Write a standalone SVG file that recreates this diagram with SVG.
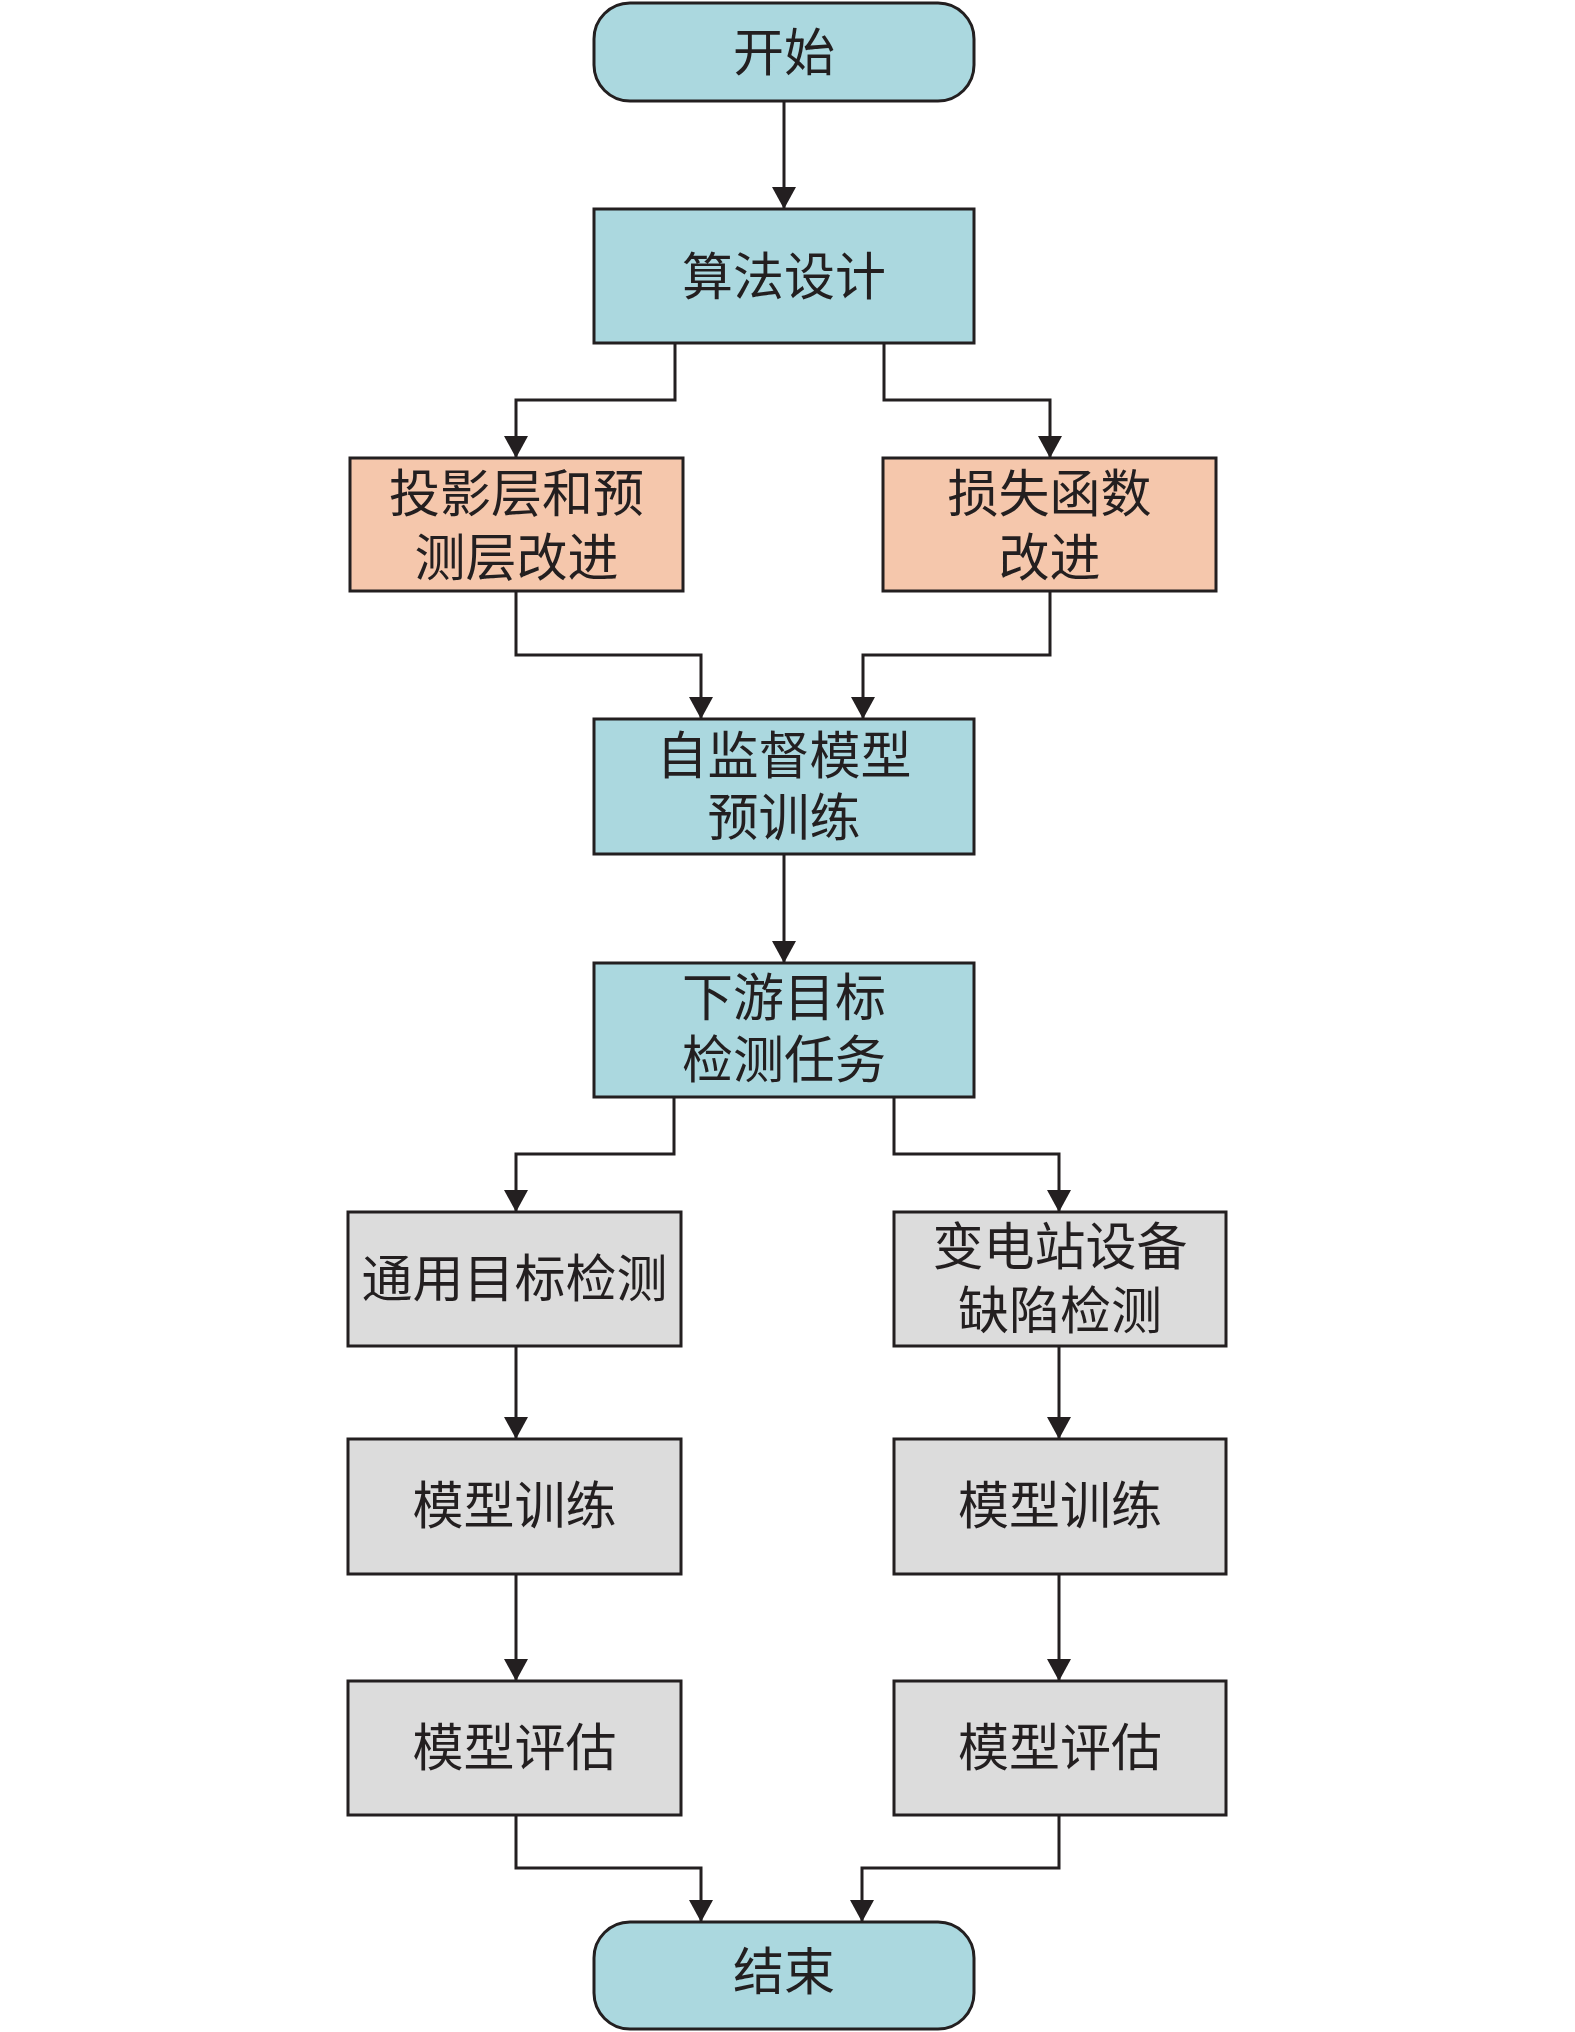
<svg xmlns="http://www.w3.org/2000/svg" width="1575" height="2032" viewBox="0 0 1575 2032">
<style>
.box{stroke:#231f20;stroke-width:3}
.teal{fill:#abd8df}
.orange{fill:#f5c7ac}
.gray{fill:#dcdcdc}
.t{font-family:"Noto Sans CJK SC","Noto Sans CJK TC",sans-serif;font-size:51px;fill:#231f20;text-anchor:middle}
.c{fill:none;stroke:#231f20;stroke-width:3}
</style>
<defs>
<marker id="arr" viewBox="0 0 22 24" refX="22" refY="12" markerWidth="22" markerHeight="24" markerUnits="userSpaceOnUse" orient="auto">
<path d="M0,0 L22,12 L0,24 z" fill="#231f20"/>
</marker>
</defs>
<rect width="1575" height="2032" fill="#ffffff"/>
<g id="connectors">
<path class="c" d="M784,101 V209" marker-end="url(#arr)"/>
<path class="c" d="M675,343 V400 H516 V458" marker-end="url(#arr)"/>
<path class="c" d="M884,343 V400 H1050 V458" marker-end="url(#arr)"/>
<path class="c" d="M516,591 V655 H701 V719" marker-end="url(#arr)"/>
<path class="c" d="M1050,591 V655 H863 V719" marker-end="url(#arr)"/>
<path class="c" d="M784,854 V963" marker-end="url(#arr)"/>
<path class="c" d="M674,1097 V1154 H516 V1212" marker-end="url(#arr)"/>
<path class="c" d="M894,1097 V1154 H1059 V1212" marker-end="url(#arr)"/>
<path class="c" d="M516,1346 V1439" marker-end="url(#arr)"/>
<path class="c" d="M1059,1346 V1439" marker-end="url(#arr)"/>
<path class="c" d="M516,1574 V1681" marker-end="url(#arr)"/>
<path class="c" d="M1059,1574 V1681" marker-end="url(#arr)"/>
<path class="c" d="M516,1815 V1868 H701 V1922" marker-end="url(#arr)"/>
<path class="c" d="M1059,1815 V1868 H862 V1922" marker-end="url(#arr)"/>
</g>
<g id="start">
<rect class="box teal" x="594" y="3" width="380" height="98" rx="36"/>
<text class="t" x="784" y="71">开始</text>
</g>
<g id="design">
<rect class="box teal" x="594" y="209" width="380" height="134"/>
<text class="t" x="784" y="295">算法设计</text>
</g>
<g id="proj">
<rect class="box orange" x="350" y="458" width="333" height="133"/>
<text class="t" x="516.5" y="512">投影层和预</text>
<text class="t" x="516.5" y="576">测层改进</text>
</g>
<g id="loss">
<rect class="box orange" x="883" y="458" width="333" height="133"/>
<text class="t" x="1049.5" y="512">损失函数</text>
<text class="t" x="1049.5" y="576">改进</text>
</g>
<g id="pretrain">
<rect class="box teal" x="594" y="719" width="380" height="135"/>
<text class="t" x="784" y="774">自监督模型</text>
<text class="t" x="784" y="836">预训练</text>
</g>
<g id="task">
<rect class="box teal" x="594" y="963" width="380" height="134"/>
<text class="t" x="784" y="1016">下游目标</text>
<text class="t" x="784" y="1078">检测任务</text>
</g>
<g id="general">
<rect class="box gray" x="348" y="1212" width="333" height="134"/>
<text class="t" x="514.5" y="1297">通用目标检测</text>
</g>
<g id="substation">
<rect class="box gray" x="894" y="1212" width="332" height="134"/>
<text class="t" x="1060" y="1265">变电站设备</text>
<text class="t" x="1060" y="1329">缺陷检测</text>
</g>
<g id="trainL">
<rect class="box gray" x="348" y="1439" width="333" height="135"/>
<text class="t" x="514.5" y="1524">模型训练</text>
</g>
<g id="trainR">
<rect class="box gray" x="894" y="1439" width="332" height="135"/>
<text class="t" x="1060" y="1524">模型训练</text>
</g>
<g id="evalL">
<rect class="box gray" x="348" y="1681" width="333" height="134"/>
<text class="t" x="514.5" y="1766">模型评估</text>
</g>
<g id="evalR">
<rect class="box gray" x="894" y="1681" width="332" height="134"/>
<text class="t" x="1060" y="1766">模型评估</text>
</g>
<g id="end">
<rect class="box teal" x="594" y="1922" width="380" height="107" rx="36"/>
<text class="t" x="784" y="1990">结束</text>
</g>
</svg>
